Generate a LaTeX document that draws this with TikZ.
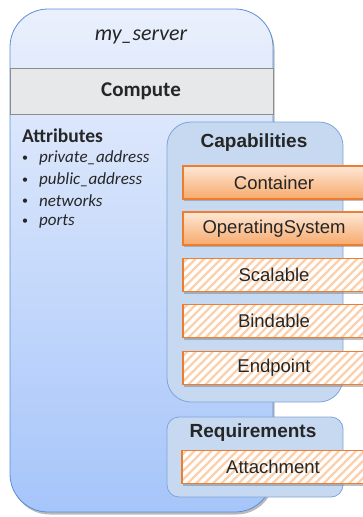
\documentclass[tikz,border=0pt]{standalone}
\usepackage{fontspec}
\setmainfont{Carlito}
\newfontfamily\arialf{Liberation Sans}
\usetikzlibrary{shadows}
\definecolor{srvTop}{HTML}{EAF0FC}
\definecolor{srvBot}{HTML}{A6C5FA}
\definecolor{srvBorder}{HTML}{5C8DD6}
\definecolor{cmpFill}{HTML}{E6E8EA}
\definecolor{cmpBorder}{HTML}{8C8C8C}
\definecolor{capFill}{HTML}{C6D9F1}
\definecolor{capBorder}{HTML}{7FA4D8}
\definecolor{orBorder}{HTML}{ED7D31}
\definecolor{orTop}{HTML}{FDE7D5}
\definecolor{orBot}{HTML}{F7AA6C}
\definecolor{hatchC}{HTML}{FBD0AC}
\definecolor{txt}{HTML}{262626}
\tikzset{
  server/.style={draw=srvBorder, line width=0.8pt, rounded corners=38pt, top color=srvTop, bottom color=srvBot,
    drop shadow={shadow xshift=1.5pt, shadow yshift=-2.5pt, fill=black!45, opacity=.6}},
  band/.style={draw=cmpBorder, line width=0.8pt, fill=cmpFill},
  group/.style={draw=capBorder, line width=0.8pt, fill=capFill},
  capbox/.style={draw=orBorder, line width=1.2pt, minimum width=182pt, minimum height=33pt, inner sep=0pt,
    text=txt, font=\arialf\fontsize{18.5}{20}\selectfont,
    drop shadow={shadow xshift=0.5pt, shadow yshift=-2pt, fill=black!50, opacity=.5}},
  solidcap/.style={capbox, top color=orTop, bottom color=orBot},
  hatchcap/.style={capbox, fill=white, path picture={
      \foreach \k in {0,...,26}
        \draw[hatchC, line width=2.3pt]
          ([xshift=\k*8.5pt-40pt, yshift=-3pt]path picture bounding box.south west) -- ++(45pt,45pt);}},
  grouptitle/.style={text=txt, font=\arialf\bfseries\fontsize{19}{20}\selectfont, inner sep=0pt},
  attr/.style={text=txt, font=\itshape\fontsize{17}{18}\selectfont, anchor=west, inner sep=0pt},
  bullet/.style={text=txt, font=\fontsize{12}{12}\selectfont, anchor=west, inner sep=0pt}
}
\begin{document}
\begin{tikzpicture}[x=1pt,y=-1pt]
\useasboundingbox (0,0) rectangle (362,517);
% main server box
\node[server, minimum width=263pt, minimum height=503pt, inner sep=0pt] (server) at (141.5,260.5) {};
\node[text=txt, font=\itshape\fontsize{22}{24}\selectfont, inner sep=0pt] (name) at (141,37) {my\_server};
% compute band
\node[band, minimum width=263pt, minimum height=46pt, inner sep=0pt] (compute) at (141.5,91) {};
\node[text=txt, font=\bfseries\fontsize{21}{22}\selectfont, inner sep=0pt] (computet) at (141,91) {Compute};
% attributes
\node[text=txt, font=\bfseries\fontsize{19.5}{20}\selectfont, anchor=west, inner sep=0pt] (attrs) at (22,136) {Attributes};
\node[bullet] (b1) at (22,158.5) {•};
\node[attr] (a1) at (39,158) {private\_address};
\node[bullet] (b2) at (22,180.5) {•};
\node[attr] (a2) at (39,180) {public\_address};
\node[bullet] (b3) at (22,201.5) {•};
\node[attr] (a3) at (39,201) {networks};
\node[bullet] (b4) at (22,221.5) {•};
\node[attr] (a4) at (39,221) {ports};
% capabilities group
\node[group, rounded corners=24pt, minimum width=176pt, minimum height=280pt, inner sep=0pt] (caps) at (255,262) {};
\node[grouptitle] (capst) at (254,143) {Capabilities};
\node[solidcap] (container) at (274,182.5) {Container};
\node[solidcap] (os) at (274,228.5) {OperatingSystem};
\node[hatchcap] (scalable) at (274,275) {Scalable};
\node[hatchcap] (bindable) at (274,321) {Bindable};
\node[hatchcap] (endpoint) at (274,368) {Endpoint};
% requirements group
\node[group, rounded corners=12pt, minimum width=176pt, minimum height=80pt, inner sep=0pt] (reqs) at (255,457) {};
\node[grouptitle] (reqst) at (253,433) {Requirements};
\node[hatchcap] (attachment) at (273,467) {Attachment};
\end{tikzpicture}
\end{document}
